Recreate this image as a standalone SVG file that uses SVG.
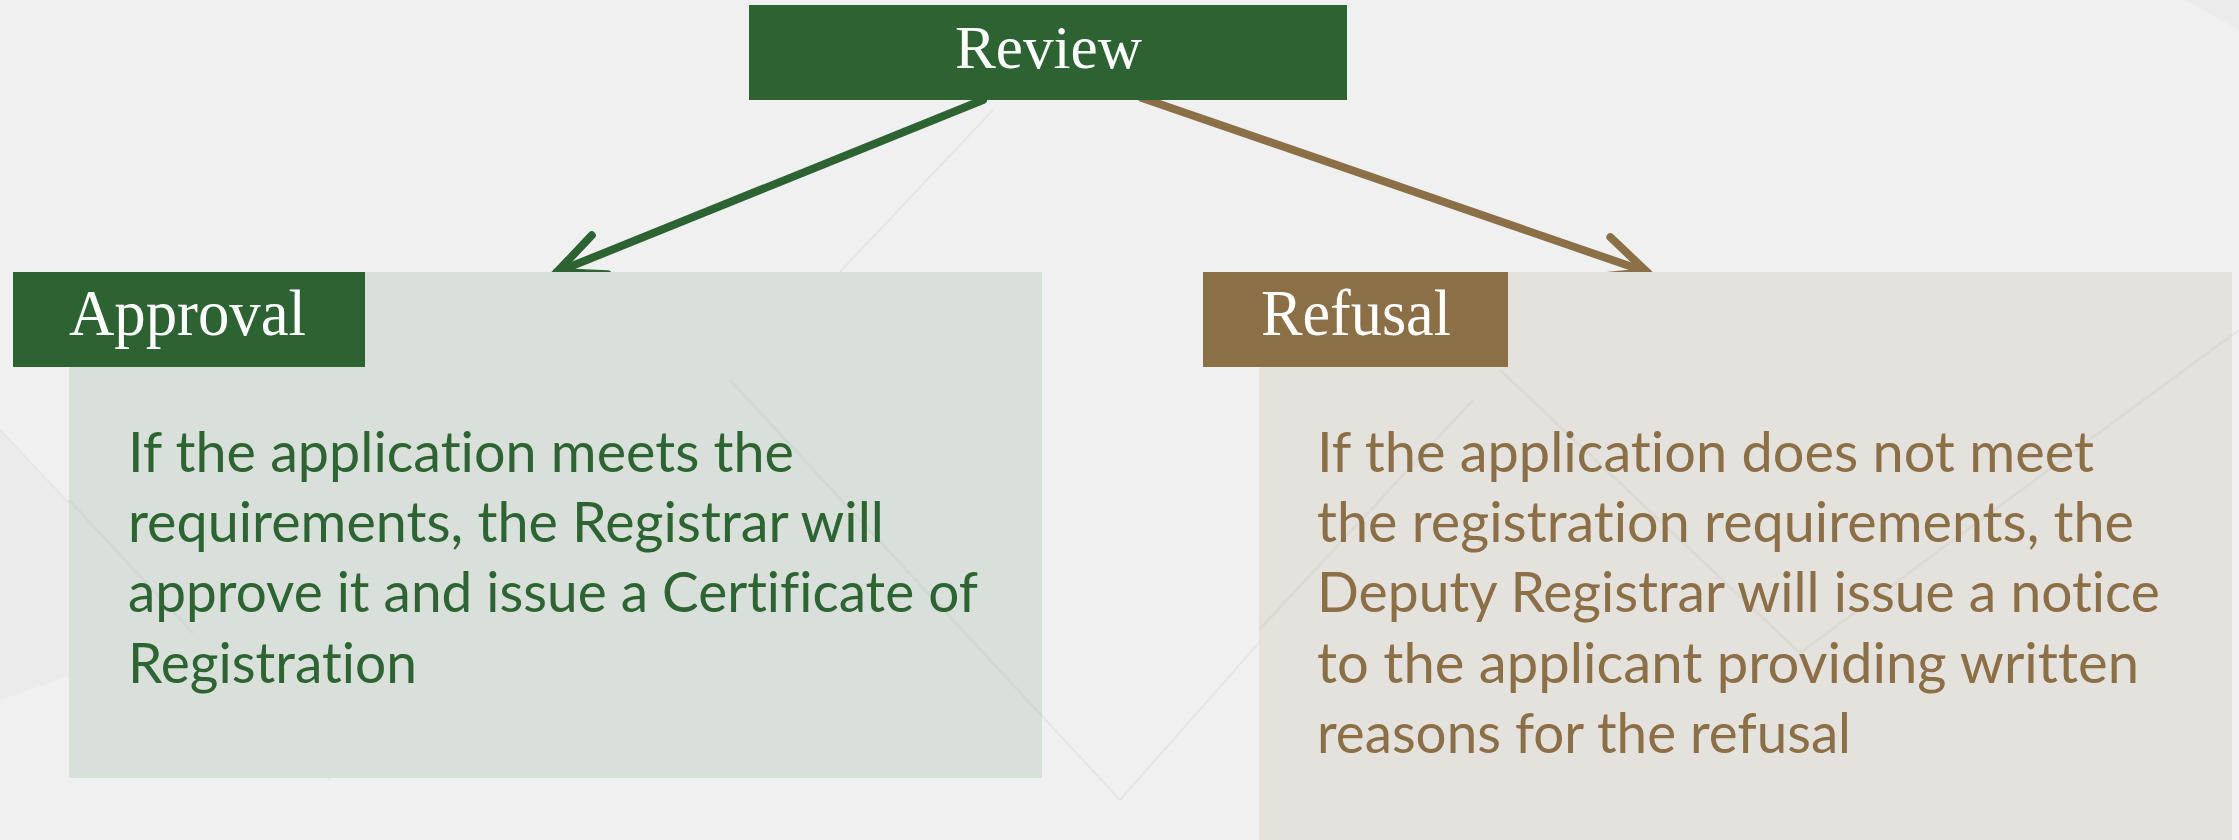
<svg xmlns="http://www.w3.org/2000/svg" width="2239" height="840" viewBox="0 0 2239 840">
  <defs>
    <style>
      .bg { fill: #f0f0f0; }
      .deco { fill: none; stroke: #e6e6e6; stroke-width: 2; }
      .shade { fill: #e4e4e4; opacity: 0.45; }
      .green { fill: #2d6232; }
      .brown { fill: #8b6f47; }
      .gpanel { fill: #d8e0d9; }
      .bpanel { fill: #e5e2dd; }
      .title { font-family: "Liberation Serif", "Times New Roman", serif; fill: #ffffff; }
      .body { font-family: Lato, "Open Sans", "Liberation Sans", sans-serif; font-size: 57px; font-variant-ligatures: none; font-feature-settings: "liga" 0, "clig" 0; }
      .gtext { fill: #2e6433; }
      .btext { fill: #8b6f47; }
      .conn { fill: none; stroke-width: 8; stroke-linecap: round; stroke-linejoin: miter; }
      .panel-deco { fill: none; stroke: #000000; stroke-opacity: 0.03; stroke-width: 3; }
    </style>
    <marker id="headG" markerUnits="userSpaceOnUse" markerWidth="80" markerHeight="80" refX="0" refY="0" viewBox="-60 -40 80 80" orient="auto" overflow="visible">
      <path d="M-46,-21 L0,0 L-46,21" fill="none" stroke="#2d6232" stroke-width="8" stroke-linecap="round" stroke-linejoin="miter"/>
    </marker>
    <marker id="headB" markerUnits="userSpaceOnUse" markerWidth="80" markerHeight="80" refX="0" refY="0" viewBox="-60 -40 80 80" orient="auto" overflow="visible">
      <path d="M-46,-21 L0,0 L-46,21" fill="none" stroke="#8b6f47" stroke-width="8" stroke-linecap="round" stroke-linejoin="miter"/>
    </marker>
  </defs>

  <!-- background -->
  <rect class="bg" x="0" y="0" width="2239" height="840"/>
  <g id="background-decoration">
    <polygon class="shade" points="0,430 193,633 0,700"/>
    <line class="deco" x1="0" y1="430" x2="330" y2="780"/>
    <line class="deco" x1="993" y1="110" x2="700" y2="420"/>
    <line class="deco" x1="730" y1="380" x2="1120" y2="800"/>
    <line class="deco" x1="1120" y1="800" x2="1500" y2="370"/>
    <line class="deco" x1="1800" y1="653" x2="2239" y2="330"/>
    <polygon class="shade" points="2185,0 2239,0 2239,30"/>
  </g>

  <!-- connectors -->
  <g id="connectors">
    <line class="conn" x1="983" y1="100" x2="557" y2="272" stroke="#2d6232" marker-end="url(#headG)"/>
    <line class="conn" x1="1142" y1="98" x2="1647" y2="272" stroke="#8b6f47" marker-end="url(#headB)"/>
  </g>

  <!-- Review node -->
  <g id="review">
    <rect class="green" x="749" y="5" width="598" height="95"/>
    <text class="title" x="955" y="68" font-size="62" textLength="187" lengthAdjust="spacingAndGlyphs">Review</text>
  </g>

  <!-- Approval node -->
  <g id="approval">
    <rect class="gpanel" x="69" y="272" width="973" height="506"/>
    <line class="panel-deco" x1="69" y1="500" x2="193" y2="633"/>
    <line class="panel-deco" x1="730" y1="380" x2="1042" y2="716"/>
    <rect class="green" x="13" y="272" width="352" height="95"/>
    <text class="title" x="69" y="335" font-size="65" textLength="237" lengthAdjust="spacingAndGlyphs">Approval</text>
    <text class="body gtext" x="128" y="472" textLength="666" lengthAdjust="spacingAndGlyphs">If the application meets the</text>
    <text class="body gtext" x="128" y="542" textLength="756" lengthAdjust="spacingAndGlyphs">requirements, the Registrar will</text>
    <text class="body gtext" x="128" y="612" textLength="850" lengthAdjust="spacingAndGlyphs">approve it and issue a Certificate of</text>
    <text class="body gtext" x="128" y="683" textLength="289" lengthAdjust="spacingAndGlyphs">Registration</text>
  </g>

  <!-- Refusal node -->
  <g id="refusal">
    <rect class="bpanel" x="1259" y="272" width="973" height="568"/>
    <line class="panel-deco" x1="1500" y1="370" x2="1800" y2="653"/>
    <line class="panel-deco" x1="1473" y1="400" x2="1259" y2="630"/>
    <line class="panel-deco" x1="1800" y1="653" x2="2232" y2="335"/>
    <rect class="brown" x="1203" y="272" width="305" height="95"/>
    <text class="title" x="1261" y="335" font-size="65" textLength="190" lengthAdjust="spacingAndGlyphs">Refusal</text>
    <text class="body btext" x="1317" y="472" textLength="777" lengthAdjust="spacingAndGlyphs">If the application does not meet</text>
    <text class="body btext" x="1317" y="542" textLength="817" lengthAdjust="spacingAndGlyphs">the registration requirements, the</text>
    <text class="body btext" x="1317" y="612" textLength="843" lengthAdjust="spacingAndGlyphs">Deputy Registrar will issue a notice</text>
    <text class="body btext" x="1317" y="683" textLength="822" lengthAdjust="spacingAndGlyphs">to the applicant providing written</text>
    <text class="body btext" x="1317" y="753" textLength="534" lengthAdjust="spacingAndGlyphs">reasons for the refusal</text>
  </g>
</svg>
